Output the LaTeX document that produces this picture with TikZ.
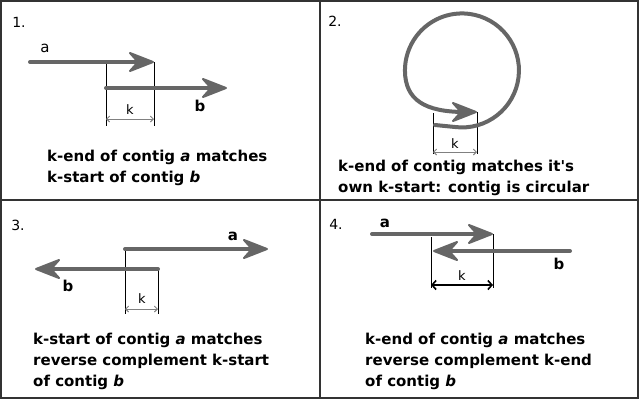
\documentclass[tikz,border=0pt]{standalone}
\usepackage{fontspec}
\setmainfont{DejaVu Sans}
\usetikzlibrary{arrows.meta}
\definecolor{contiggray}{HTML}{666666}
\definecolor{framegray}{HTML}{333333}
\definecolor{dimgray}{HTML}{808080}

\begin{document}
\begin{tikzpicture}[x=1pt,y=-1pt,font=\fontsize{15}{21}\selectfont,
  contig/.style={line width=4pt,contiggray,line cap=round,shorten >=12pt},
  headright/.pic={\filldraw[contiggray,line width=2pt,line join=round] (-1,0) -- (-24,-9) -- (-16,0) -- (-24,9) -- cycle;},
  headleft/.pic={\filldraw[contiggray,line width=2pt,line join=round] (1,0) -- (24,-9) -- (16,0) -- (24,9) -- cycle;},
  kline/.style={line width=0.9pt,black},
  kdim/.style={line width=0.9pt,dimgray,{Straight Barb[length=3pt,width=6pt]}-{Straight Barb[length=3pt,width=6pt]}},
  kdimdark/.style={line width=1.6pt,black,{Straight Barb[length=4pt,width=9pt]}-{Straight Barb[length=4pt,width=9pt]}},
  caption/.style={anchor=base west,align=left,font=\fontsize{15}{21}\selectfont\bfseries,inner sep=0pt},
  num/.style={font=\fontsize{14}{16}\selectfont},
  lbl/.style={font=\fontsize{15}{17}\selectfont\bfseries},
  klbl/.style={font=\fontsize{13}{15}\selectfont}]
\useasboundingbox (0,0) rectangle (640,400);
\draw[framegray,line width=2pt] (1,1) rectangle (638,398);
\draw[framegray,line width=2pt] (320,1) -- (320,398);
\draw[framegray,line width=2pt] (1,200) -- (638,200);
\node[num] (n1) at (19,22) {1.};
\node[num] (n2) at (335,21) {2.};
\node[num] (n3) at (18,225) {3.};
\node[num] (n4) at (336,224) {4.};
\coordinate (a1s) at (30,62);
\coordinate (a1e) at (154,62);
\coordinate (b1s) at (106,88);
\coordinate (b1e) at (227,88);
\coordinate (k1l) at (106,126);
\coordinate (k1r) at (154,126);
\coordinate (d1l) at (106,119);
\coordinate (d1r) at (154,119);
\draw[kline] (106,64) -- (k1l);
\draw[kline] (a1e) -- (k1r);
\draw[contig] (a1s) -- (a1e);
\pic at (a1e) {headright};
\draw[contig] (b1s) -- (b1e);
\pic at (b1e) {headright};
\draw[kdim] (d1l) -- (d1r);
\node[font=\fontsize{15}{17}\selectfont] (la1) at (45,48) {a};
\node[lbl] (lb1) at (200,106) {b};
\node[klbl] (k1) at (130,110) {k};
\node[caption] (t1) at (47,182) {k-end of contig \textit{a} matches\\k-start of contig \textit{b}};
\coordinate (c2s) at (435,125);
\coordinate (c2e) at (477,112);
\coordinate (k2l) at (433,154);
\coordinate (k2r) at (477,154);
\coordinate (d2l) at (433,152);
\coordinate (d2r) at (477,152);
\draw[kline] (433,113) -- (k2l);
\draw[kline] (c2e) -- (k2r);
\draw[contig] (c2s) -- (455,127) arc[start angle=97,end angle=-180,radius=57]
  .. controls (405,100) and (425,112) .. (c2e);
\pic at (c2e) {headright};
\draw[kdim] (d2l) -- (d2r);
\node[klbl] (k2) at (455,144) {k};
\node[caption] (t2) at (338,192) {k-end of contig matches it\textquotesingle s\\own k-start: contig is circular};
\coordinate (a3s) at (125,249);
\coordinate (a3e) at (268,249);
\coordinate (b3s) at (158,269);
\coordinate (b3e) at (35,269);
\coordinate (k3l) at (125,314);
\coordinate (k3r) at (158,314);
\coordinate (d3l) at (125,309);
\coordinate (d3r) at (158,309);
\draw[kline] (a3s) -- (k3l);
\draw[kline] (b3s) -- (k3r);
\draw[contig] (a3s) -- (a3e);
\pic at (a3e) {headright};
\draw[contig] (b3s) -- (b3e);
\pic at (b3e) {headleft};
\draw[kdim] (d3l) -- (d3r);
\node[lbl] (la3) at (233,236) {a};
\node[lbl] (lb3) at (68,286) {b};
\node[klbl] (k3) at (142,299) {k};
\node[caption] (t3) at (33,386) {k-start of contig \textit{a} matches\\reverse complement k-start\\of contig \textit{b}};
\coordinate (a4s) at (372,234);
\coordinate (a4e) at (493,234);
\coordinate (b4s) at (570,251);
\coordinate (b4e) at (433,251);
\coordinate (k4l) at (431,288);
\coordinate (k4r) at (493,288);
\coordinate (d4l) at (431,285);
\coordinate (d4r) at (493,285);
\draw[kline] (431,237) -- (k4l);
\draw[kline] (a4e) -- (k4r);
\draw[contig] (a4s) -- (a4e);
\pic at (a4e) {headright};
\draw[contig] (b4s) -- (b4e);
\pic at (b4e) {headleft};
\draw[kdimdark] (d4l) -- (d4r);
\node[lbl] (la4) at (385,223) {a};
\node[lbl] (lb4) at (559,264) {b};
\node[klbl] (k4) at (462,276) {k};
\node[caption] (t4) at (365,386) {k-end of contig \textit{a} matches\\reverse complement k-end\\of contig \textit{b}};
\end{tikzpicture}
\end{document}
